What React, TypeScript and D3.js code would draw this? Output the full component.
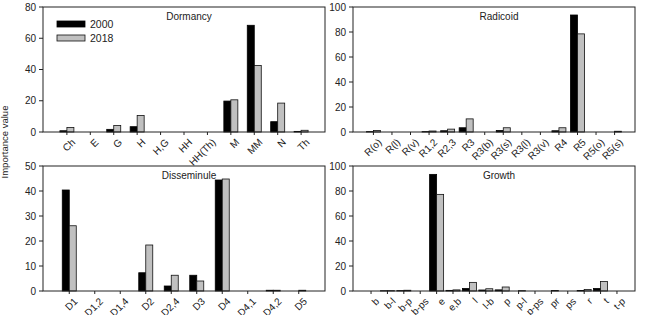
import React from 'react';
import * as d3 from 'd3';

// data
const dormancyCats = ['Ch', 'E', 'G', 'H', 'H,G', 'HH', 'HH(Th)', 'M', 'MM', 'N', 'Th'];
const dormancy2000 = [0.8, 0, 1.7, 3.4, 0, 0, 0, 19.8, 68.3, 6.6, 0.4];
const dormancy2018 = [2.9, 0, 4.2, 10.6, 0, 0, 0, 20.6, 42.6, 18.5, 1.1];

const radicoidCats = ['R(o)', 'R(l)', 'R(v)', 'R1,2', 'R2,3', 'R3', 'R3(b)', 'R3(s)', 'R3(l)', 'R3(v)', 'R4', 'R5', 'R5(o)', 'R5(s)'];
const radicoid2000 = [0.3, 0, 0, 0.3, 1.0, 3.4, 0, 1.2, 0, 0, 1.0, 93.6, 0, 0];
const radicoid2018 = [1.2, 0, 0, 0.8, 2.3, 10.5, 0, 3.4, 0, 0, 3.4, 78.5, 0, 0.6];

const dissemCats = ['D1', 'D1,2', 'D1,4', 'D2', 'D2,4', 'D3', 'D4', 'D4,1', 'D4,2', 'D5'];
const dissem2000 = [40.4, 0, 0, 7.3, 2.0, 6.3, 44.4, 0, 0.3, 0];
const dissem2018 = [26.1, 0, 0, 18.4, 6.3, 4.0, 44.8, 0, 0.3, 0.3];

const growthCats = ['b', 'b-l', 'b-p', 'b-ps', 'e', 'e,b', 'l', 'l-b', 'p', 'p-l', 'p-ps', 'pr', 'ps', 'r', 't', 't-p'];
const growth2000 = [0, 0.2, 0.3, 0, 93.3, 0.5, 2.0, 0.8, 0.9, 0, 0, 0, 0, 0.4, 2.0, 0];
const growth2018 = [0, 0.3, 0.6, 0, 77.3, 0.9, 6.9, 1.8, 3.2, 0.3, 0, 0.4, 0, 1.2, 7.6, 0];

const years = ['2000', '2018'];

const FONT = 'Liberation Sans, Arial, sans-serif';
const BAR_W = 7;

type PanelProps = {
  title: string;
  cats: string[];
  a: number[];
  b: number[];
  yMax: number;
  yStep: number;
  x0: number;
  x1: number;
  y0: number;
  y1: number;
  pad: number;
  legend?: boolean;
};

const Panel = ({ title, cats, a, b, yMax, yStep, x0, x1, y0, y1, pad, legend }: PanelProps) => {
  const x = d3.scalePoint<string>().domain(cats).range([x0, x1]).padding(pad);
  const y = d3.scaleLinear().domain([0, yMax]).range([y1, y0]);
  const ticks = d3.range(0, yMax + 0.001, yStep);

  return (
    <g>
      {/* bars */}
      {cats.map((c, i) => {
        const cx = x(c)!;
        return (
          <g key={c}>
            {a[i] > 0 && (
              <rect x={cx - BAR_W} y={y(a[i])} width={BAR_W} height={y1 - y(a[i])}
                fill="#000" stroke="#000" strokeWidth={0.8} />
            )}
            {b[i] > 0 && (
              <rect x={cx} y={y(b[i])} width={BAR_W} height={y1 - y(b[i])}
                fill="#c0c0c0" stroke="#111" strokeWidth={0.8} />
            )}
          </g>
        );
      })}

      {/* frame */}
      <rect x={x0} y={y0} width={x1 - x0} height={y1 - y0} fill="none" stroke="#222" strokeWidth={1} />

      {/* y axis */}
      {ticks.map((t) => (
        <g key={t}>
          <line x1={x0 - 4} x2={x0} y1={y(t)} y2={y(t)} stroke="#222" />
          <text x={x0 - 7} y={y(t)} dy="0.35em" textAnchor="end" fontSize={10} fontFamily={FONT} fill="#222">
            {t}
          </text>
        </g>
      ))}

      {/* x axis, labels slanted 45 degrees */}
      {cats.map((c) => {
        const cx = x(c)!;
        return (
          <g key={'l' + c}>
            <line x1={cx} x2={cx} y1={y1} y2={y1 + 3} stroke="#222" />
            <text
              style={{ transform: `translate(${cx + 4}px, ${y1 + 6}px) rotate(-45deg)` }}
              textAnchor="end" dy="0.7em" fontSize={10} fontFamily={FONT} fill="#222">
              {c}
            </text>
          </g>
        );
      })}

      <text x={(x0 + x1) / 2 + 5} y={y0 + 13} textAnchor="middle" fontSize={10} fontFamily={FONT} fill="#222">
        {title}
      </text>

      {legend && (
        <g>
          <rect x={x0 + 14} y={y0 + 14} width={28} height={6} fill="#000" stroke="#000" strokeWidth={0.8} />
          <text x={x0 + 47} y={y0 + 17} dy="0.35em" fontSize={10.5} fontFamily={FONT} fill="#222">{years[0]}</text>
          <rect x={x0 + 14} y={y0 + 28} width={28} height={6} fill="#c0c0c0" stroke="#111" strokeWidth={0.8} />
          <text x={x0 + 47} y={y0 + 31} dy="0.35em" fontSize={10.5} fontFamily={FONT} fill="#222">{years[1]}</text>
        </g>
      )}
    </g>
  );
};

export default function App() {
  return (
    <svg width={646} height={315} style={{ position: 'absolute', left: 0, top: 0, background: '#fff' }}>
      <Panel title="Dormancy" cats={dormancyCats} a={dormancy2000} b={dormancy2018}
        yMax={80} yStep={20} x0={43} x1={325} y0={7} y1={132} pad={1.02} legend />
      <Panel title="Radicoid" cats={radicoidCats} a={radicoid2000} b={radicoid2018}
        yMax={100} yStep={20} x0={353} x1={635} y0={7} y1={132} pad={1.1} />
      <Panel title="Disseminule" cats={dissemCats} a={dissem2000} b={dissem2018}
        yMax={50} yStep={10} x0={43} x1={325} y0={166} y1={291} pad={1.03} />
      <Panel title="Growth" cats={growthCats} a={growth2000} b={growth2018}
        yMax={100} yStep={20} x0={353} x1={635} y0={166} y1={291} pad={1.1} />
      <text transform="translate(8,142) rotate(-90)" textAnchor="middle" fontSize={9.5} fontFamily={FONT} fill="#222">
        Importance value
      </text>
    </svg>
  );
}
